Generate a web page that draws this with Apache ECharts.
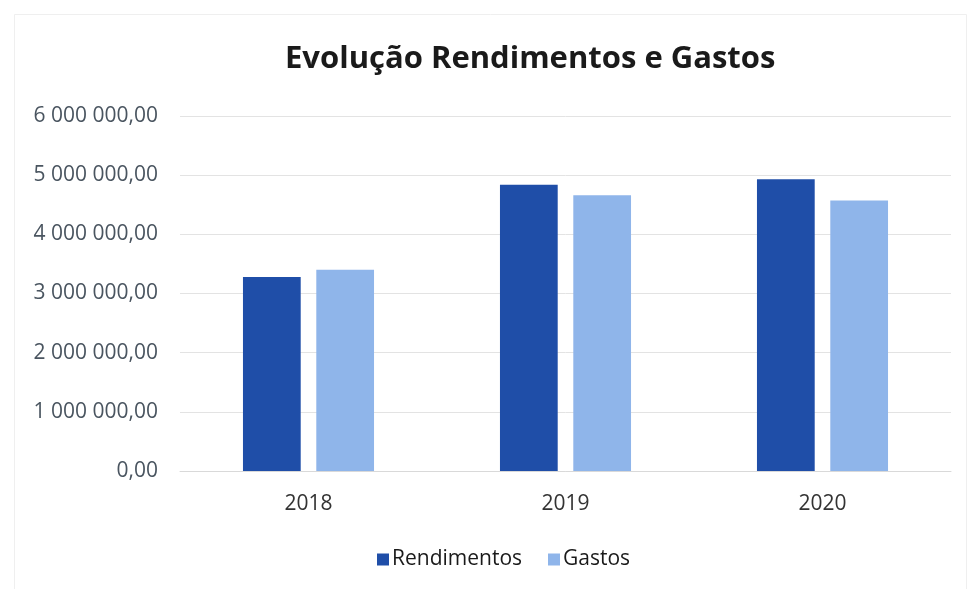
<!DOCTYPE html>
<html><head><meta charset="utf-8">
<script src="https://cdn.jsdelivr.net/npm/echarts@6/dist/echarts.min.js"></script>
<style>html,body{margin:0;padding:0;background:#fff}#c{width:968px;height:589px}</style>
</head><body><div id="c"></div>
<script>
const categories = ['2018', '2019', '2020'];
const rendimentos = [3280000, 4840000, 4930000];
const gastos = [3400000, 4660000, 4570000];
const seriesNames = ['Rendimentos', 'Gastos'];

function fmt(v){
  const s = Math.round(v).toString().replace(/\B(?=(\d{3})+(?!\d))/g, ' ');
  return s + ',00';
}
const chart = echarts.init(document.getElementById('c'));
chart.setOption({
  backgroundColor: '#fff',
  animation: false,
  graphic: [{type: 'rect', left: 12, top: 12, shape: {width: 952, height: 575},
    style: {fill: 'none', stroke: '#efefef', lineWidth: 1}, silent: true}],
  title: {
    text: 'Evolução Rendimentos e Gastos', left: 280, top: 39,
    textStyle: {fontFamily: 'Open Sans', fontWeight: 'bold', fontSize: 31, color: '#1a1a1a'}
  },
  legend: {
    data: seriesNames, bottom: 14, left: 372, itemWidth: 12, itemHeight: 12, itemGap: 26,
    icon: 'rect',
    textStyle: {fontFamily: 'Open Sans', fontSize: 21, color: '#1a1a1a', padding: [0,0,0,-2]}
  },
  grid: {left: 180, right: 17, top: 116, bottom: 118},
  xAxis: {
    type: 'category', data: categories,
    axisLine: {show: true, lineStyle: {color: '#d9d9d9'}},
    axisTick: {show: false},
    axisLabel: {fontFamily: 'Open Sans', fontSize: 21, color: '#333', margin: 23}
  },
  yAxis: {
    type: 'value', min: 0, max: 6000000, interval: 1000000,
    axisLine: {show: false}, axisTick: {show: false},
    splitLine: {lineStyle: {color: '#e3e3e3'}},
    axisLabel: {fontFamily: 'Open Sans', fontSize: 21, color: '#4a5560', margin: 22, formatter: fmt}
  },
  series: [
    {name: seriesNames[0], type: 'bar', data: rendimentos, barGap: '27%', barCategoryGap: '49%',
     itemStyle: {color: '#1f4ea8'}},
    {name: seriesNames[1], type: 'bar', data: gastos,
     itemStyle: {color: '#8fb5ea'}}
  ]
});
</script></body></html>
